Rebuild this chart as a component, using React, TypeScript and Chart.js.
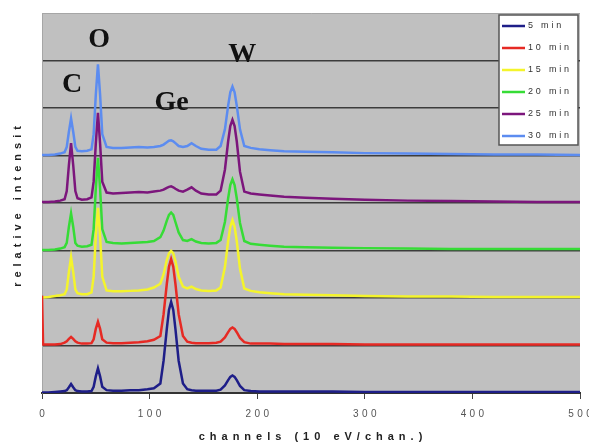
import React, { useEffect, useRef } from 'react';
import { Chart, registerables } from 'chart.js';

Chart.register(...registerables);

// channel numbers (x values)
const channels = [
  0, 1, 6, 12, 17, 21, 23, 25, 27, 29, 31, 33, 37,
  42, 46, 48, 50, 52, 54, 56, 60, 66, 74, 82, 90, 98,
  104, 110, 113, 116, 118, 120, 122, 124, 127, 131, 135, 139, 143, 148,
  155, 162, 166, 170, 173, 175, 177, 179, 181, 184, 188, 194, 202,
  212, 225, 245, 270, 300, 340, 380, 420, 460, 500,
];

const seriesLabels = ['5 min', '10 min', '15 min', '20 min', '25 min', '30 min'];
const seriesColors = ['#1e1e88', '#e62a24', '#f4f42c', '#36dc36', '#7c167c', '#5c8cf0'];
// vertical offset of each spectrum (stacked display)
const stackOffsets = [0, 1, 2, 3, 4, 5];

const min5 = [
  0.01, 0.01, 0.01, 0.02, 0.03, 0.04, 0.06, 0.12, 0.19, 0.12, 0.06, 0.04, 0.03,
  0.03, 0.04, 0.13, 0.35, 0.52, 0.35, 0.13, 0.06, 0.05, 0.05, 0.06, 0.06, 0.08,
  0.1, 0.2, 0.68, 1.35, 1.75, 1.92, 1.75, 1.35, 0.68, 0.2, 0.08, 0.06, 0.05, 0.05,
  0.05, 0.05, 0.07, 0.16, 0.27, 0.34, 0.37, 0.34, 0.27, 0.15, 0.06, 0.04, 0.03,
  0.03, 0.03, 0.03, 0.03, 0.02, 0.02, 0.02, 0.02, 0.02, 0.02,
];
const min10 = [
  1.05, 0.02, 0.02, 0.02, 0.03, 0.06, 0.09, 0.14, 0.18, 0.14, 0.09, 0.06, 0.04,
  0.04, 0.05, 0.13, 0.35, 0.5, 0.35, 0.13, 0.06, 0.05, 0.05, 0.06, 0.07, 0.09,
  0.12, 0.2, 0.66, 1.3, 1.66, 1.82, 1.66, 1.3, 0.66, 0.2, 0.08, 0.06, 0.05, 0.05,
  0.05, 0.06, 0.08, 0.17, 0.28, 0.35, 0.38, 0.35, 0.28, 0.16, 0.07, 0.04, 0.04,
  0.04, 0.03, 0.03, 0.03, 0.02, 0.02, 0.02, 0.02, 0.02, 0.02,
];
const min15 = [
  0.01, 0.01, 0.02, 0.04, 0.06, 0.08, 0.18, 0.55, 0.86, 0.55, 0.18, 0.1, 0.08,
  0.08, 0.12, 0.45, 1.3, 1.9, 1.3, 0.45, 0.16, 0.14, 0.14, 0.15, 0.16, 0.18,
  0.22, 0.3, 0.5, 0.8, 0.94, 0.99, 0.94, 0.78, 0.45, 0.24, 0.2, 0.24, 0.19, 0.16,
  0.15, 0.16, 0.22, 0.65, 1.2, 1.5, 1.64, 1.5, 1.2, 0.62, 0.2, 0.15, 0.12,
  0.1, 0.08, 0.07, 0.06, 0.04, 0.03, 0.03, 0.02, 0.02, 0.02,
];
const min20 = [
  0.01, 0.01, 0.01, 0.02, 0.04, 0.07, 0.16, 0.5, 0.78, 0.5, 0.16, 0.1, 0.08,
  0.09, 0.12, 0.45, 1.3, 1.95, 1.3, 0.45, 0.18, 0.16, 0.15, 0.16, 0.17, 0.18,
  0.2, 0.28, 0.42, 0.63, 0.75, 0.8, 0.75, 0.6, 0.38, 0.22, 0.2, 0.24, 0.19, 0.16,
  0.15, 0.16, 0.22, 0.6, 1.1, 1.38, 1.5, 1.38, 1.1, 0.58, 0.2, 0.14, 0.12,
  0.1, 0.08, 0.07, 0.06, 0.05, 0.04, 0.03, 0.03, 0.03, 0.03,
];
const min25 = [
  0.02, 0.02, 0.02, 0.03, 0.05, 0.08, 0.25, 0.8, 1.26, 0.8, 0.25, 0.1, 0.07,
  0.08, 0.12, 0.45, 1.25, 1.9, 1.25, 0.45, 0.22, 0.2, 0.21, 0.22, 0.23, 0.22,
  0.24, 0.26, 0.28, 0.32, 0.34, 0.35, 0.33, 0.3, 0.26, 0.24, 0.28, 0.33, 0.26, 0.2,
  0.18, 0.18, 0.26, 0.7, 1.3, 1.62, 1.75, 1.62, 1.3, 0.66, 0.24, 0.2, 0.18,
  0.16, 0.13, 0.11, 0.09, 0.07, 0.05, 0.04, 0.03, 0.02, 0.02,
];
const min30 = [
  0.01, 0.01, 0.01, 0.02, 0.04, 0.07, 0.18, 0.5, 0.78, 0.5, 0.18, 0.1, 0.09,
  0.1, 0.13, 0.45, 1.28, 1.92, 1.28, 0.45, 0.18, 0.16, 0.16, 0.17, 0.18, 0.17,
  0.18, 0.2, 0.23, 0.28, 0.31, 0.32, 0.3, 0.26, 0.2, 0.18, 0.2, 0.26, 0.2, 0.14,
  0.12, 0.12, 0.2, 0.55, 1.05, 1.33, 1.45, 1.33, 1.05, 0.55, 0.2, 0.16, 0.13,
  0.11, 0.09, 0.08, 0.07, 0.05, 0.04, 0.03, 0.02, 0.02, 0.01,
];
const seriesValues = [min5, min10, min15, min20, min25, min30];

const xTicks = [0, 100, 200, 300, 400, 500];
const yGridLevels = [0, 1, 2, 3, 4, 5, 6, 7, 8];

// element labels over peaks: text, channel, level (in offset units)
const peakLabels = ['C', 'O', 'Ge', 'W'];
const peakChannels = [27.9, 53, 120.4, 186];
const peakLevels = [6.34, 7.28, 5.96, 6.97];

const xTitle = 'channels (10 eV/chan.)';
const yTitle = 'relative intensit';

const decorPlugin = {
  id: 'decor',
  beforeDraw(chart: any) {
    const { ctx, chartArea: a } = chart;
    ctx.save();
    ctx.fillStyle = '#c0c0c0';
    ctx.fillRect(a.left, a.top, a.right - a.left, a.bottom - a.top);
    ctx.restore();
  },
  afterDraw(chart: any) {
    const { ctx, chartArea: a, scales } = chart;
    // peak labels
    ctx.save();
    ctx.letterSpacing = '0px';
    ctx.fillStyle = '#111';
    ctx.font = 'bold 28px "Liberation Serif", "Times New Roman", serif';
    ctx.textAlign = 'center';
    ctx.textBaseline = 'alphabetic';
    peakLabels.forEach((t, i) => {
      ctx.fillText(t, scales.x.getPixelForValue(peakChannels[i]), scales.y.getPixelForValue(peakLevels[i]));
    });
    ctx.restore();

    // x tick labels
    ctx.save();
    ctx.letterSpacing = '3.4px';
    ctx.fillStyle = '#555';
    ctx.font = '10px "Liberation Sans", Arial, sans-serif';
    ctx.textAlign = 'center';
    ctx.textBaseline = 'middle';
    xTicks.forEach((v) => {
      ctx.fillText(String(v), scales.x.getPixelForValue(v) + 1.7, a.bottom + 21);
    });
    ctx.restore();

    // axis titles
    ctx.save();
    ctx.letterSpacing = '5px';
    ctx.fillStyle = '#222';
    ctx.font = 'bold 11px "Liberation Sans", Arial, sans-serif';
    ctx.textAlign = 'center';
    ctx.textBaseline = 'middle';
    ctx.fillText(xTitle, (a.left + a.right) / 2 + 2, a.bottom + 44);
    ctx.translate(a.left - 24, (a.top + a.bottom) / 2 + 1);
    ctx.rotate(-Math.PI / 2);
    ctx.fillText(yTitle, 0, 0);
    ctx.restore();

    // legend
    ctx.save();
    const bw = 79, bh = 130;
    const bx = a.right - 81, by = a.top + 2;
    ctx.fillStyle = '#ffffff';
    ctx.fillRect(bx, by, bw, bh);
    ctx.strokeStyle = '#555';
    ctx.lineWidth = 1.5;
    ctx.strokeRect(bx, by, bw, bh);
    ctx.font = '9px "Liberation Sans", Arial, sans-serif';
    ctx.textBaseline = 'middle';
    ctx.textAlign = 'left';
    ctx.letterSpacing = '2.8px';
    chart.data.datasets.forEach((ds: any, i: number) => {
      const y = by + 11 + i * 22;
      ctx.strokeStyle = ds.borderColor;
      ctx.lineWidth = 2.5;
      ctx.beginPath();
      ctx.moveTo(bx + 3, y);
      ctx.lineTo(bx + 26, y);
      ctx.stroke();
      ctx.fillStyle = '#333';
      ctx.fillText(ds.label, bx + 29, y);
    });
    ctx.restore();
  },
};

export default function App() {
  const ref = useRef<HTMLCanvasElement>(null);
  useEffect(() => {
    document.body.style.margin = '0';
    const canvas = ref.current!;
    const datasets = seriesValues.map((vals, i) => ({
      label: seriesLabels[i],
      data: channels.map((c, j) => ({ x: c, y: vals[j] + stackOffsets[i] })),
      borderColor: seriesColors[i],
      backgroundColor: seriesColors[i],
      borderWidth: 2.5,
      pointRadius: 0,
      tension: 0,
      fill: false,
    }));
    const chart = new Chart(canvas, {
      type: 'line',
      data: { datasets },
      options: {
        responsive: false,
        animation: false,
        devicePixelRatio: 1,
        layout: { padding: { top: 13, right: 9, left: 0, bottom: 0 }, autoPadding: false },
        plugins: { legend: { display: false }, tooltip: { enabled: false }, title: { display: false } },
        scales: {
          x: {
            type: 'linear',
            min: 0,
            max: 500,
            afterBuildTicks: (s: any) => { s.ticks = xTicks.map((v) => ({ value: v })); },
            grid: { drawOnChartArea: false, drawTicks: true, tickLength: 6, color: '#444', lineWidth: 1 },
            border: { display: true, color: '#333', width: 2 },
            ticks: { display: false },
            afterFit: (s: any) => { s.height = 52; },
          },
          y: {
            type: 'linear',
            min: 0,
            max: 8,
            afterBuildTicks: (s: any) => { s.ticks = yGridLevels.map((v) => ({ value: v })); },
            ticks: { display: false },
            grid: {
              drawTicks: false,
              color: (c: any) => (c.tick && c.tick.value === 8 ? '#a6a6a6' : '#3c3c3c'),
              lineWidth: (c: any) => (c.tick && c.tick.value === 8 ? 1 : 1.5),
            },
            border: { display: true, color: '#a6a6a6', width: 1 },
            afterFit: (s: any) => { s.width = 42; },
          },
        },
      },
      plugins: [decorPlugin],
    });
    return () => chart.destroy();
  }, []);
  return <canvas ref={ref} width={589} height={445} style={{ display: 'block', width: 589, height: 445 }} />;
}
